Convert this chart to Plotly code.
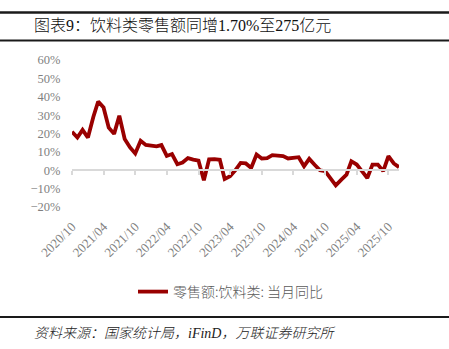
import plotly.graph_objects as go
import pandas as pd

# ---- data ----
months = pd.date_range("2020-10-01", "2025-12-01", freq="MS")
yoy = [20.9, 17.8, 22.0, 17.8, 29.0, 37.4, 34.2, 23.2, 19.8, 29.7,
       17.0, 12.4, 9.1, 16.0, 13.8, 13.3, 13.0, 13.7, 7.8, 8.8,
       3.3, 4.2, 6.6, 5.8, 5.2, -5.5, 5.9, 6.0, 5.7, -4.8,
       -3.3, 0.0, 4.0, 3.7, 1.3, 8.6, 6.4, 6.6, 8.2, 8.0,
       7.7, 6.4, 6.8, 7.1, 2.2, 6.2, 3.0, 0.0, -0.5, -4.5,
       -8.2, -5.2, -2.4, 4.9, 3.1, -0.5, -4.2, 3.1, 3.1, -0.5,
       7.7, 3.7, 1.7]
tick_dates = pd.date_range("2020-10-01", "2025-10-01", freq="6MS")
tick_labels = [d.strftime("%Y/%m") for d in tick_dates]
series_name = "零售额:饮料类: 当月同比"
title_text = "图表9：饮料类零售额同增1.70%至275亿元"
source_text = "资料来源：国家统计局，iFinD，万联证券研究所"

# ---- geometry helpers (pixel -> paper) ----
W, H = 449, 349
L, R, T, B = 72, 50, 60, 142
PW, PH = W - L - R, H - T - B


def px(x):
    return (x - L) / PW


def py(y):
    return (H - B - y) / PH


fig = go.Figure()
fig.add_trace(go.Scatter(
    x=months, y=yoy, mode="lines", name=series_name,
    line=dict(color="#990000", width=3.8),
))

SERIF = "Liberation Serif, 'Noto Sans CJK SC', serif"
CJK = "'Noto Sans CJK SC', sans-serif"

fig.update_layout(
    width=W, height=H,
    margin=dict(l=L, r=R, t=T, b=B),
    paper_bgcolor="white", plot_bgcolor="white",
    showlegend=True,
    legend=dict(orientation="h", x=px(133), y=py(292), xanchor="left",
                yanchor="middle",
                font=dict(family=CJK, size=14, color="#595959", weight=300),
                bgcolor="rgba(0,0,0,0)"),
    xaxis=dict(type="date", range=[months[0], months[-1]],
               tickvals=list(tick_dates), ticktext=tick_labels,
               tickangle=-45, showgrid=False, zeroline=False, showline=False,
               ticks="outside", ticklen=6, tickcolor="rgba(0,0,0,0)",
               tickfont=dict(family=SERIF, size=13, color="#7f7f7f")),
    xaxis2=dict(type="date", range=[months[0], months[-1]], overlaying="x",
                anchor="free", position=0.25, side="bottom",
                tickvals=list(tick_dates), showticklabels=False,
                showgrid=False, zeroline=False, showline=True,
                linecolor="#d9d9d9", linewidth=1.5,
                ticks="outside", ticklen=4, tickcolor="#d9d9d9", tickwidth=1.5),
    yaxis=dict(range=[-20, 60], dtick=10, ticksuffix="%", showgrid=False,
               zeroline=False, showline=False, ticks="outside", ticklen=8,
               tickcolor="rgba(0,0,0,0)",
               tickfont=dict(family=SERIF, size=12.5, color="#7f7f7f")),
)

# invisible trace to anchor the zero-line axis
fig.add_trace(go.Scatter(x=[months[0]], y=[0], xaxis="x2", mode="markers",
                         marker=dict(opacity=0), showlegend=False, hoverinfo="skip"))

# header / footer rules
for y0, w in [(12.5, 2.5), (40.5, 2), (317, 2)]:
    fig.add_shape(type="line", xref="paper", yref="paper",
                  x0=px(0), x1=px(W), y0=py(y0), y1=py(y0),
                  line=dict(color="#1a1a1a", width=w))

fig.add_annotation(text=title_text, xref="paper", yref="paper",
                   x=px(32), y=py(26), xanchor="left", yanchor="middle",
                   showarrow=False,
                   font=dict(family=SERIF, size=16, color="#111111", weight=300))
fig.add_annotation(text="<i>" + source_text + "</i>", xref="paper", yref="paper",
                   x=px(32), y=py(333), xanchor="left", yanchor="middle",
                   showarrow=False,
                   font=dict(family=SERIF, size=14, color="#222222", weight=300))

fig.write_html("out.html")
